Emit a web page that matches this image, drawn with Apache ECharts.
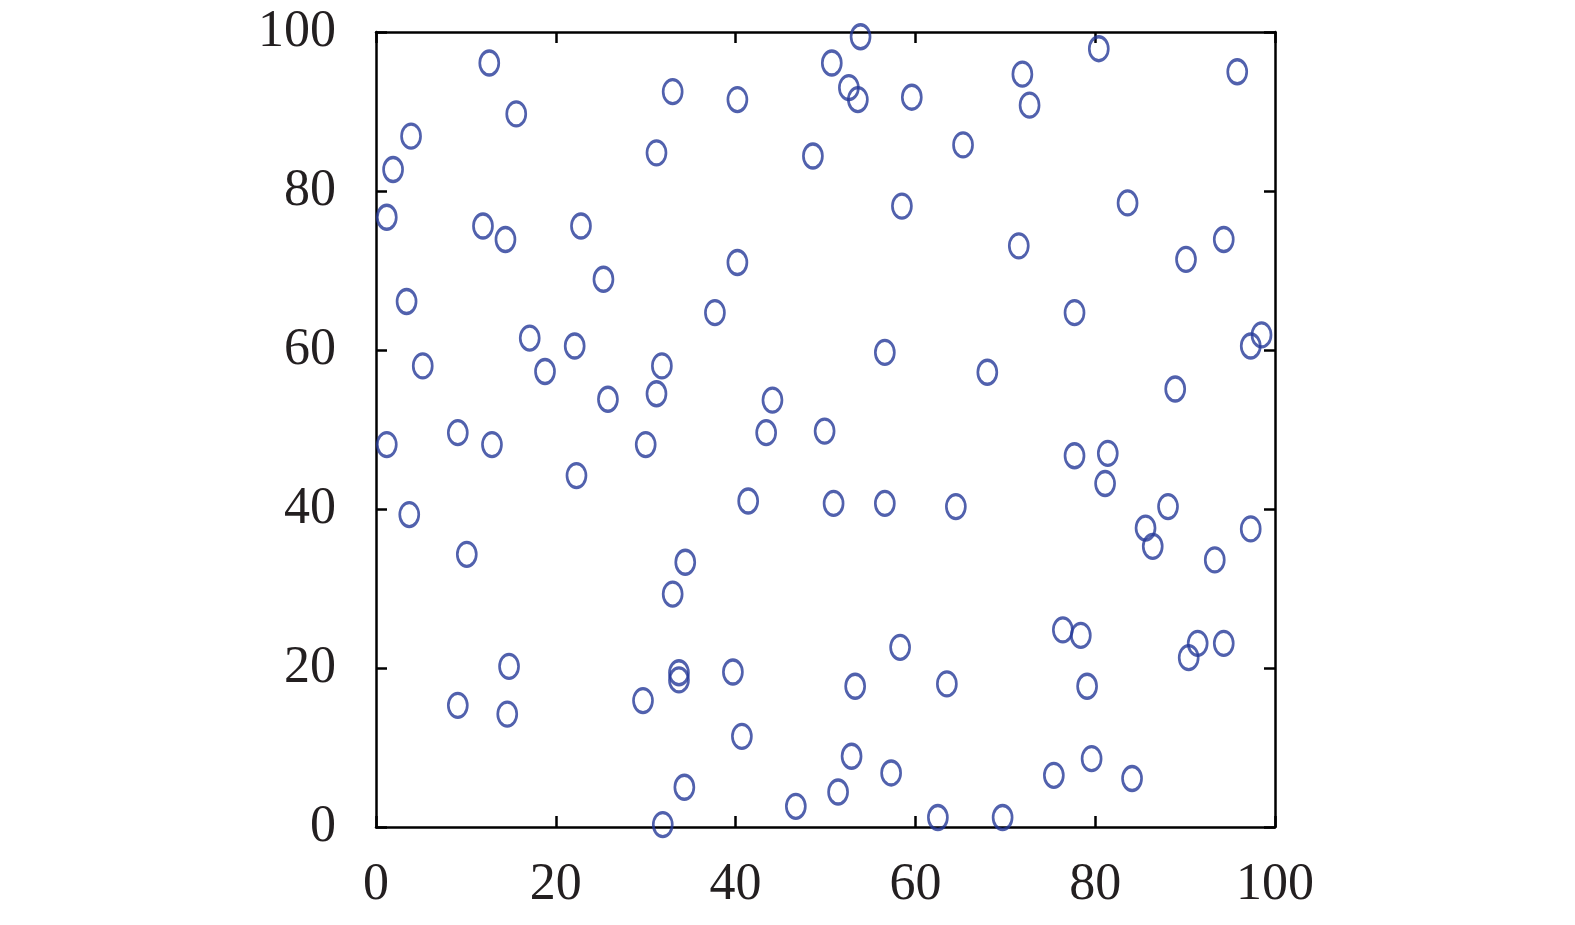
<!DOCTYPE html>
<html>
<head>
<meta charset="utf-8">
<script src="https://cdn.jsdelivr.net/npm/echarts@6/dist/echarts.min.js"></script>
<style>
html,body{margin:0;padding:0;background:#fff;}
#chart{width:1575px;height:925px;}
</style>
</head>
<body>
<div id="chart"></div>
<script>
// x and y coordinates of each point
const xValues = [
  1.2, 1.9, 3.9, 3.4, 5.2, 1.2, 3.7, 12.6, 15.6, 11.9,
  14.4, 17.1, 18.8, 9.1, 12.9, 10.1, 14.8, 9.1, 14.6, 22.8,
  22.1, 25.3, 25.8, 22.3, 30.0, 31.2, 31.8, 31.2, 33.0, 40.2,
  40.2, 37.7, 34.4, 33.0, 33.7, 33.7, 29.7, 39.7, 40.7, 34.3,
  31.9, 44.1, 43.4, 41.4, 46.7, 48.6, 50.7, 52.6, 53.6, 53.9,
  49.9, 50.9, 56.6, 58.5, 59.6, 56.6, 53.3, 58.3, 52.9, 51.4,
  57.3, 62.5, 63.5, 64.5, 65.3, 68.0, 69.7, 71.5, 71.9, 72.7,
  77.7, 77.7, 76.4, 78.4, 79.1, 75.4, 79.6, 80.4, 83.6, 81.4,
  81.1, 85.6, 86.4, 88.1, 88.9, 90.1, 84.1, 90.4, 91.4, 93.3,
  94.3, 94.3, 95.8, 97.3, 98.5, 97.3
];
const yValues = [
  76.7, 82.7, 86.9, 66.1, 58.0, 48.1, 39.3, 96.1, 89.7, 75.6,
  73.9, 61.5, 57.3, 49.6, 48.1, 34.3, 20.2, 15.3, 14.2, 75.6,
  60.5, 68.9, 53.8, 44.2, 48.1, 54.5, 58.0, 84.8, 92.5, 91.5,
  71.0, 64.7, 33.3, 29.3, 19.4, 18.5, 15.9, 19.5, 11.4, 5.0,
  0.3, 53.7, 49.6, 41.0, 2.6, 84.4, 96.1, 93.0, 91.5, 99.4,
  49.8, 40.7, 59.7, 78.1, 91.8, 40.7, 17.7, 22.6, 8.9, 4.4,
  6.8, 1.2, 18.0, 40.3, 85.8, 57.2, 1.2, 73.1, 94.7, 90.8,
  64.7, 46.7, 24.8, 24.1, 17.7, 6.5, 8.6, 97.9, 78.5, 47.0,
  43.2, 37.6, 35.3, 40.3, 55.1, 71.4, 6.1, 21.3, 23.1, 33.6,
  23.1, 73.9, 95.0, 60.5, 61.9, 37.5
];
const xTicks = [0, 20, 40, 60, 80, 100];
const yTicks = [0, 20, 40, 60, 80, 100];

const points = xValues.map((x, i) => [x, yValues[i]]);
const ellipse = 'path://M0,12 A9,12 0 1,1 18,12 A9,12 0 1,1 0,12 Z';
const labelFont = { fontFamily: 'Liberation Serif', fontSize: 52, color: '#231f20' };
const axLine = { show: true, onZero: false, lineStyle: { color: '#000', width: 2.5 } };
const tick = { show: true, inside: true, length: 11, lineStyle: { color: '#000', width: 2.5 } };

const chart = echarts.init(document.getElementById('chart'));
chart.setOption({
  animation: false,
  backgroundColor: '#fff',
  grid: { left: 376, right: 300, top: 32, bottom: 98 },
  xAxis: [
    { type: 'value', min: 0, max: 100, interval: 20, position: 'bottom',
      axisLine: axLine, axisTick: tick, splitLine: { show: false },
      axisLabel: Object.assign({ margin: 32, formatter: v => xTicks.includes(v) ? String(v) : '' }, labelFont) },
    { type: 'value', min: 0, max: 100, interval: 20, position: 'top',
      axisLine: axLine, axisTick: tick, splitLine: { show: false }, axisLabel: { show: false } }
  ],
  yAxis: [
    { type: 'value', min: 0, max: 100, interval: 20, position: 'left',
      axisLine: axLine, axisTick: tick, splitLine: { show: false },
      axisLabel: Object.assign({ margin: 40, formatter: v => yTicks.includes(v) ? String(v) : '' }, labelFont) },
    { type: 'value', min: 0, max: 100, interval: 20, position: 'right',
      axisLine: axLine, axisTick: tick, splitLine: { show: false }, axisLabel: { show: false } }
  ],
  series: [{
    type: 'scatter',
    data: points,
    symbol: ellipse,
    symbolSize: [19, 24],
    clip: false,
    itemStyle: { color: 'rgba(0,0,0,0)', borderColor: '#263a98', borderWidth: 3 }
  }]
});
</script>
</body>
</html>
